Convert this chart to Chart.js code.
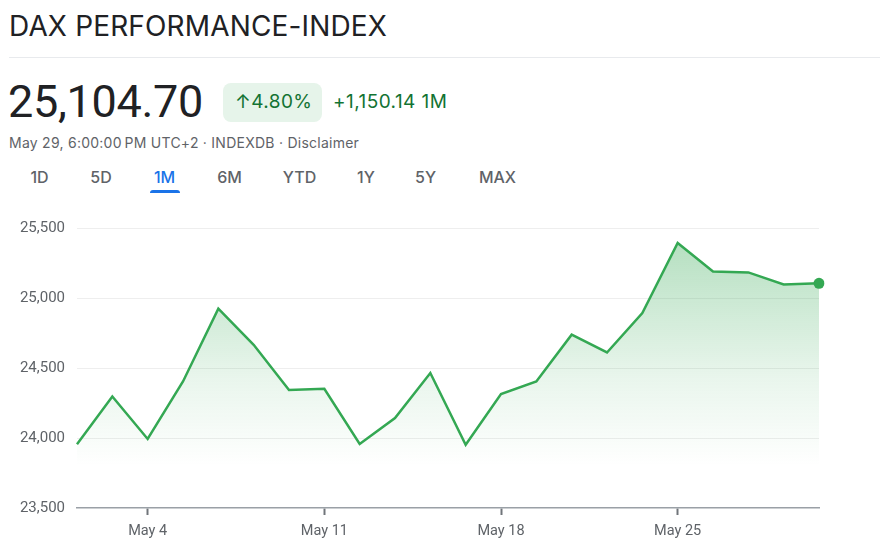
<!DOCTYPE html>
<html>
<head>
<meta charset="utf-8">
<script src="https://cdn.jsdelivr.net/npm/chart.js@4"></script>
<style>
  html, body { margin: 0; padding: 0; background: #fff; }
  body { width: 880px; height: 548px; position: relative; overflow: hidden; font-family: Roboto, "Noto Sans", Arial, sans-serif; }
  .abs { position: absolute; white-space: nowrap; }
  #title { left: 9px; top: 8px; font-family: Inter, Roboto, sans-serif; font-size: 28px; color: #202124; line-height: 36px; letter-spacing: 0.15px; }
  #sep { left: 9px; top: 57px; width: 871px; height: 1px; background: #e8eaed; }
  #price { left: 8px; top: 74px; font-size: 45px; color: #202124; line-height: 56px; letter-spacing: -0.3px; }
  #badge { left: 223px; top: 83px; width: 99px; height: 39px; background: #e6f4ea; border-radius: 8px; }
  #pct { left: 235px; top: 89px; font-family: Inter, Roboto, sans-serif; font-size: 19px; color: #137333; line-height: 26px; font-weight: 400; letter-spacing: 0.4px; }
  #chg { left: 333px; top: 89px; font-family: Inter, Roboto, sans-serif; font-size: 19px; color: #137333; line-height: 26px; font-weight: 400; letter-spacing: 0.45px; }
  #sub { left: 9px; top: 133px; font-family: Inter, Roboto, sans-serif; font-size: 14px; color: #5f6368; line-height: 20px; letter-spacing: 0.25px; }
  .tab { top: 166px; font-family: Inter, Roboto, sans-serif; font-size: 16px; color: #5f6368; line-height: 22px; font-weight: 500; transform: translateX(-50%); }
  .tab.active { color: #1a73e8; }
  #uline { left: 150px; top: 190px; width: 30px; height: 3px; background: #1a73e8; border-radius: 3px 3px 0 0; }
  #wrap { position: absolute; left: 0; top: 200px; width: 880px; height: 348px; }
</style>
</head>
<body>
<div class="abs" id="title">DAX PERFORMANCE-INDEX</div>
<div class="abs" id="sep"></div>
<div class="abs" id="price">25,104.70</div>
<div class="abs" id="badge"></div>
<div class="abs" id="pct">↑4.80%</div>
<div class="abs" id="chg">+1,150.14 1M</div>
<div class="abs" id="sub">May 29, 6:00:00&#8239;PM UTC+2 · INDEXDB · Disclaimer</div>
<div id="tabs"></div>
<div class="abs" id="uline"></div>
<div id="wrap"><canvas id="c"></canvas></div>
<script>
// ---- data ----
const dates = ["Apr 29","Apr 30","May 4","May 5","May 6","May 7","May 8","May 11","May 12","May 13","May 14","May 15","May 18","May 19","May 20","May 21","May 22","May 25","May 26","May 27","May 28","May 29"];
const closeValues = [23954.56,24297,23993,24404,24924,24666,24343,24352,23957,24143,24464,23952,24314,24404,24738,24611,24893,25393,25190,25183,25097,25104.70];
const xTickLabels = ["May 4","May 11","May 18","May 25"];
const yTickValues = [23500,24000,24500,25000,25500];
const tabLabels = ["1D","5D","1M","6M","YTD","1Y","5Y","MAX"];
const tabCenters = [39.5,101,164.5,229.5,299.5,366,425.5,497.5];
const activeTab = "1M";

// tabs
const tabsEl = document.getElementById('tabs');
tabLabels.forEach((t, i) => {
  const s = document.createElement('div');
  s.className = 'abs tab' + (t === activeTab ? ' active' : '');
  s.style.left = tabCenters[i] + 'px';
  s.textContent = t;
  tabsEl.appendChild(s);
});

const GREEN = '#34a853';
const lastIdx = closeValues.length - 1;

new Chart(document.getElementById('c'), {
  type: 'line',
  data: {
    labels: dates,
    datasets: [{
      data: closeValues,
      borderColor: GREEN,
      borderWidth: 2.5,
      tension: 0,
      fill: 'start',
      backgroundColor: (ctx) => {
        const chart = ctx.chart;
        const area = chart.chartArea;
        if (!area) return 'rgba(52,168,83,0.2)';
        const ys = chart.scales.y;
        const top = ys.getPixelForValue(Math.max(...closeValues));
        const bottom = ys.getPixelForValue(23800);
        const g = chart.ctx.createLinearGradient(0, top, 0, bottom);
        g.addColorStop(0, 'rgba(52,168,83,0.36)');
        g.addColorStop(0.6, 'rgba(52,168,83,0.11)');
        g.addColorStop(1, 'rgba(52,168,83,0.0)');
        return g;
      },
      pointRadius: (ctx) => ctx.dataIndex === lastIdx ? 5.5 : 0,
      pointHoverRadius: 0,
      pointBackgroundColor: GREEN,
      pointBorderColor: GREEN,
      pointBorderWidth: 0
    }]
  },
  options: {
    responsive: true,
    maintainAspectRatio: false,
    animation: false,
    layout: { padding: { top: 28, right: 61, bottom: 0, left: 0 } },
    plugins: { legend: { display: false }, tooltip: { enabled: false } },
    scales: {
      x: {
        type: 'category',
        offset: false,
        afterBuildTicks: (axis) => {
          axis.ticks = axis.ticks.filter(t => xTickLabels.includes(dates[t.value]));
        },
        afterFit: (axis) => { axis.height = 40; },
        ticks: {
          autoSkip: false,
          maxRotation: 0,
          padding: 8,
          color: '#5f6368',
          font: { family: 'Roboto', size: 14.5 },
          callback: function (v) { return this.getLabelForValue(v); }
        },
        grid: {
          drawOnChartArea: false,
          drawTicks: true,
          tickLength: 7,
          tickColor: '#70757a',
          tickWidth: 2
        },
        border: { display: true, color: '#9aa0a6', width: 1.5 }
      },
      y: {
        min: 23500,
        max: 25500,
        afterBuildTicks: (axis) => { axis.ticks = yTickValues.map(v => ({ value: v })); },
        afterFit: (axis) => { axis.width = 77; },
        ticks: {
          padding: 12,
          color: '#5f6368',
          font: { family: 'Roboto', size: 15 },
          callback: (v) => v.toLocaleString('en-US')
        },
        grid: {
          drawTicks: false,
          color: (ctx) => ctx.tick && ctx.tick.value === 23500 ? 'rgba(0,0,0,0)' : '#eeeeee',
          lineWidth: 1
        },
        border: { display: false }
      }
    }
  }
});
</script>
</body>
</html>
